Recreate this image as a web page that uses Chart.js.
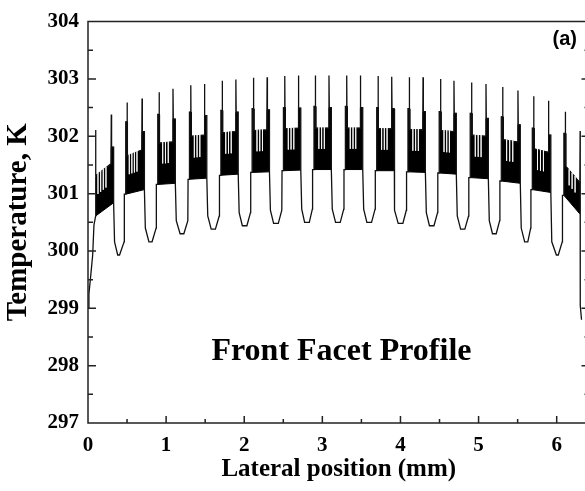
<!DOCTYPE html>
<html>
<head>
<meta charset="utf-8">
<script src="https://cdn.jsdelivr.net/npm/chart.js@4.4.0/dist/chart.umd.min.js"></script>
<style>
  html, body { margin: 0; padding: 0; background: #fff; overflow: hidden; }
  #wrap { width: 600px; height: 491px; }
</style>
</head>
<body>
<div id="wrap"><canvas id="chart" width="600" height="491"></canvas></div>
<script>
// --- axis ticks ---
const xTicks = [0, 1, 2, 3, 4, 5, 6];
const xMinor = [0.5, 1.5, 2.5, 3.5, 4.5, 5.5];
const yTicks = [297, 298, 299, 300, 301, 302, 303, 304];
const yMinor = [297.5, 298.5, 299.5, 300.5, 301.5, 302.5, 303.5];

// --- 16 stripe groups (x in mm, temperature in K) ---
const spikeLX = [0.098, 0.500, 0.910, 1.316, 1.718, 2.118, 2.519, 2.910, 3.312, 3.713, 4.113, 4.513, 4.910, 5.308, 5.705, 6.110];
const spikeRX = [0.298, 0.692, 1.088, 1.491, 1.893, 2.293, 2.694, 3.085, 3.487, 3.888, 4.289, 4.685, 5.095, 5.504, 5.895, 6.300];
const spikeLT = [302.11, 302.59, 302.77, 302.89, 302.97, 303.02, 303.05, 303.06, 303.06, 303.05, 303.03, 303.00, 302.94, 302.86, 302.70, 302.43];
const spikeRT = [302.38, 302.66, 302.83, 302.91, 302.99, 303.03, 303.06, 303.06, 303.06, 303.04, 303.03, 302.97, 302.91, 302.80, 302.62, 302.09];
const shoulderL = [301.31, 302.25, 302.38, 302.42, 302.45, 302.48, 302.50, 302.52, 302.52, 302.50, 302.48, 302.43, 302.40, 302.34, 302.14, 302.05];
const shoulderR = [301.81, 302.08, 302.30, 302.36, 302.42, 302.46, 302.49, 302.50, 302.50, 302.48, 302.43, 302.40, 302.31, 302.20, 302.02, 301.19];
const bandTopL = [301.31, 301.66, 301.88, 302.00, 302.06, 302.10, 302.13, 302.14, 302.14, 302.13, 302.12, 302.10, 302.02, 301.94, 301.78, 301.48];
const bandTopR = [301.52, 301.76, 301.90, 302.02, 302.08, 302.11, 302.14, 302.14, 302.14, 302.13, 302.11, 302.08, 302.00, 301.90, 301.72, 301.19];
const bandBotL = [300.61, 300.99, 301.16, 301.25, 301.32, 301.37, 301.40, 301.42, 301.42, 301.40, 301.38, 301.36, 301.28, 301.22, 301.07, 300.97];
const bandBotR = [300.84, 301.07, 301.18, 301.27, 301.34, 301.38, 301.41, 301.42, 301.42, 301.40, 301.37, 301.34, 301.26, 301.18, 301.02, 300.64];
const leftShoulderW = [0, 0.017, 0.017, 0.017, 0.017, 0.017, 0.017, 0.017, 0.017, 0.017, 0.017, 0.017, 0.017, 0.017, 0.017, 0.018];
const rightShoulderW = [0.030, 0.030, 0.030, 0.030, 0.030, 0.030, 0.030, 0.030, 0.030, 0.030, 0.030, 0.030, 0.030, 0.030, 0.030, 0];
const combCount = [4, 4, 3, 3, 3, 3, 3, 3, 3, 3, 3, 3, 3, 3, 3, 3];

// --- 15 valleys between the groups ---
const valleyX = [0.392, 0.800, 1.203, 1.604, 2.005, 2.406, 2.803, 3.199, 3.600, 4.001, 4.400, 4.797, 5.202, 5.610, 6.008];
const valleyHalf = [0.012, 0.020, 0.024, 0.027, 0.029, 0.030, 0.030, 0.030, 0.030, 0.030, 0.029, 0.027, 0.024, 0.020, 0.012];
const valleyMin = [299.93, 300.16, 300.30, 300.38, 300.44, 300.48, 300.50, 300.50, 300.50, 300.48, 300.44, 300.38, 300.30, 300.16, 299.93];
const valleyKnee = [300.16, 300.40, 300.53, 300.61, 300.67, 300.71, 300.73, 300.73, 300.73, 300.71, 300.67, 300.61, 300.53, 300.40, 300.16];

// --- ends of the profile ---
const leftEdgeX = [0, 0.012, 0.030, 0.060, 0.076];
const leftEdgeY = [299.0, 299.25, 299.5, 299.93, 300.45];
const rightEdgeX = [6.301, 6.303, 6.306, 6.318];
const rightEdgeY = [300.60, 299.60, 299.05, 298.80];

// build the main trace
const profile = [];
leftEdgeX.forEach((x, i) => profile.push({ x, y: leftEdgeY[i] }));
for (let g = 0; g < spikeLX.length; g++) {
    const sL = spikeLX[g], sR = spikeRX[g];
    const lsw = leftShoulderW[g], rsw = rightShoulderW[g];
    profile.push({ x: sL - lsw, y: bandBotL[g] });
    profile.push({ x: sL - lsw, y: shoulderL[g] });
    profile.push({ x: sL, y: shoulderL[g] });
    profile.push({ x: sL, y: spikeLT[g] });
    profile.push({ x: sL + 0.004, y: bandTopL[g] });
    profile.push({ x: sR - 0.004, y: bandTopR[g] });
    profile.push({ x: sR, y: spikeRT[g] });
    profile.push({ x: sR + Math.min(0.004, rsw), y: shoulderR[g] });
    profile.push({ x: sR + rsw, y: shoulderR[g] });
    profile.push({ x: sR + rsw, y: bandBotR[g] });
    if (g < valleyX.length) {
        const nL = spikeLX[g + 1] - leftShoulderW[g + 1];
        profile.push({ x: sR + rsw + 0.012, y: valleyKnee[g] });
        profile.push({ x: valleyX[g] - valleyHalf[g], y: valleyMin[g] });
        profile.push({ x: valleyX[g] + valleyHalf[g], y: valleyMin[g] });
        profile.push({ x: nL - 0.021, y: valleyKnee[g] });
        profile.push({ x: nL - 0.018, y: bandBotL[g + 1] });
    }
}
rightEdgeX.forEach((x, i) => profile.push({ x, y: rightEdgeY[i] }));

// dense oscillation blocks: upper and lower edge of each, filled between
const bandSets = [];
spikeLX.forEach((sL, g) => {
    const sR = spikeRX[g], lsw = leftShoulderW[g], rsw = rightShoulderW[g];
    bandSets.push({
        data: [
            { x: sL - lsw, y: shoulderL[g] },
            { x: sL + 0.006, y: shoulderL[g] },
            { x: sL + 0.006, y: bandTopL[g] },
            { x: sR, y: bandTopR[g] },
            { x: sR, y: shoulderR[g] },
            { x: sR + rsw, y: shoulderR[g] }
        ],
        borderColor: '#000',
        borderWidth: 1,
        backgroundColor: '#000',
        fill: '+1',
        pointRadius: 0,
        order: 2
    });
    bandSets.push({
        data: [
            { x: sL - lsw, y: bandBotL[g] },
            { x: sR + rsw, y: bandBotR[g] }
        ],
        borderColor: '#000',
        borderWidth: 1,
        fill: false,
        pointRadius: 0,
        order: 2
    });
});

// thin white gaps in the top of each block
const combs = [];
spikeLX.forEach((sL, g) => {
    const w = spikeRX[g] - sL;
    const n = combCount[g];
    const start = n === 4 ? 0.15 : 0.26;
    const step = n === 4 ? 0.17 : 0.2;
    for (let j = 0; j < n; j++) {
        const f = start + step * j;
        const x = sL + w * f;
        const top = bandTopL[g] + (bandTopR[g] - bandTopL[g]) * f;
        const bot = bandBotL[g] + (bandBotR[g] - bandBotL[g]) * f;
        combs.push({ x, y: top + 0.02 });
        combs.push({ x, y: top - (top - bot) * 0.5 });
        combs.push({ x, y: null });
    }
});

const frameAndText = {
    id: 'frameAndText',
    afterDatasetsDraw(chart) {
        const { ctx, chartArea: a, scales: { x, y } } = chart;
        ctx.save();
        ctx.strokeStyle = '#222';
        ctx.lineWidth = 1.5;
        ctx.beginPath();
        ctx.moveTo(a.left, a.top);
        ctx.lineTo(a.right, a.top);
        ctx.lineTo(a.right, a.bottom);
        ctx.lineTo(a.left, a.bottom);
        ctx.closePath();
        yTicks.forEach(v => {
            const p = y.getPixelForValue(v);
            ctx.moveTo(a.left, p); ctx.lineTo(a.left + 8, p);
            ctx.moveTo(a.right, p); ctx.lineTo(a.right - 8, p);
        });
        yMinor.forEach(v => {
            const p = y.getPixelForValue(v);
            ctx.moveTo(a.left, p); ctx.lineTo(a.left + 5, p);
            ctx.moveTo(a.right, p); ctx.lineTo(a.right - 5, p);
        });
        xTicks.forEach(v => {
            const p = x.getPixelForValue(v);
            ctx.moveTo(p, a.bottom); ctx.lineTo(p, a.bottom - 7);
        });
        xMinor.forEach(v => {
            const p = x.getPixelForValue(v);
            ctx.moveTo(p, a.bottom); ctx.lineTo(p, a.bottom - 4);
        });
        ctx.stroke();

        ctx.fillStyle = '#000';
        ctx.textBaseline = 'alphabetic';
        ctx.font = 'bold 32px "Liberation Serif", "Times New Roman", serif';
        ctx.textAlign = 'left';
        ctx.fillText('Front Facet Profile', x.getPixelForValue(1.58), y.getPixelForValue(298.09));
        ctx.font = 'bold 20px "Liberation Sans", Arial, sans-serif';
        ctx.textAlign = 'right';
        ctx.fillText('(a)', x.getPixelForValue(6.26), y.getPixelForValue(303.586));
        ctx.restore();
    }
};

const serif = '"Liberation Serif", "Times New Roman", serif';

new Chart(document.getElementById('chart'), {
    type: 'line',
    data: {
        datasets: [
            ...bandSets,
            {
                data: combs,
                borderColor: '#fff',
                borderWidth: 0.7,
                pointRadius: 0,
                spanGaps: false,
                fill: false,
                order: 0
            },
            {
                data: profile,
                borderColor: '#111',
                borderWidth: 1.3,
                pointRadius: 0,
                fill: false,
                order: 1
            }
        ]
    },
    options: {
        responsive: false,
        animation: false,
        events: [],
        layout: { padding: { left: 0, top: 17, right: 10.5, bottom: 0 } },
        plugins: { legend: { display: false }, tooltip: { enabled: false } },
        elements: { line: { tension: 0 } },
        scales: {
            x: {
                type: 'linear',
                min: 0,
                max: 6.42,
                grid: { display: false, drawTicks: false, tickLength: 0 },
                border: { display: false },
                afterBuildTicks: s => { s.ticks = xTicks.map(v => ({ value: v })); },
                afterFit: s => { s.height = 68; },
                ticks: { color: '#000', padding: 10, font: { family: serif, size: 21, weight: 'bold' } },
                title: {
                    display: true,
                    text: 'Lateral position (mm)',
                    color: '#000',
                    font: { family: serif, size: 25, weight: 'bold' },
                    padding: { top: 0, bottom: 6 }
                }
            },
            y: {
                type: 'linear',
                min: 297,
                max: 304,
                grid: { display: false, drawTicks: false, tickLength: 0 },
                border: { display: false },
                afterBuildTicks: s => { s.ticks = yTicks.map(v => ({ value: v })); },
                afterFit: s => { s.width = 88; },
                ticks: { color: '#000', padding: 9, font: { family: serif, size: 21, weight: 'bold' } },
                title: {
                    display: true,
                    text: 'Temperature, K',
                    color: '#000',
                    font: { family: serif, size: 29, weight: 'bold' },
                    padding: { top: 1, bottom: 0 }
                }
            }
        }
    },
    plugins: [frameAndText]
});
</script>
</body>
</html>
